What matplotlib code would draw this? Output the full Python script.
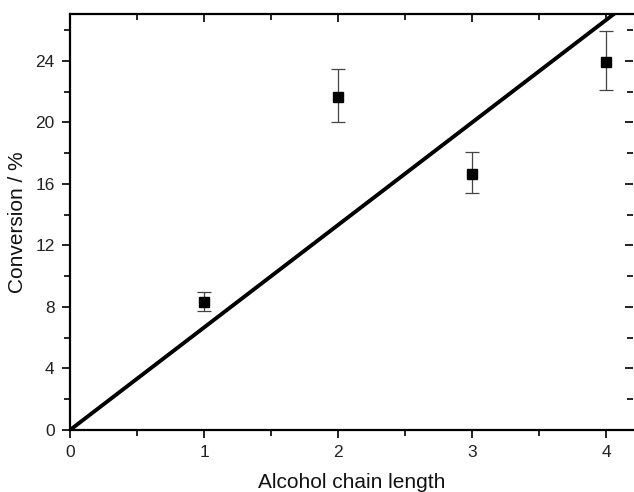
import matplotlib
matplotlib.use('Agg')
import matplotlib.pyplot as plt
from matplotlib.ticker import MultipleLocator

plt.rcParams['font.family'] = ['Liberation Sans', 'DejaVu Sans']

# measured points
chain_length = [1, 2, 3, 4]
conversion = [8.33, 21.65, 16.65, 23.95]
err_low = [0.6, 1.6, 1.25, 1.85]
err_high = [0.65, 1.85, 1.4, 2.0]

# straight fit line (end points)
fit_x = [0, 4.2]
fit_y = [0, 28.0]

fig = plt.figure(figsize=(6.34, 4.92), dpi=100)
ax = fig.add_axes([70/634, 62/492, 563/634, 416/492])

ax.plot(fit_x, fit_y, color='black', lw=2.8, solid_capstyle='butt')
ax.errorbar(chain_length, conversion, yerr=[err_low, err_high], fmt='s',
            color='black', ms=7.5, ecolor='#444444', elinewidth=0.9,
            capsize=5, capthick=0.9)

ax.set_xlim(0, 4.2)
ax.set_ylim(0, 27.05)
ax.xaxis.set_major_locator(MultipleLocator(1))
ax.xaxis.set_minor_locator(MultipleLocator(0.5))
ax.yaxis.set_major_locator(MultipleLocator(4))
ax.yaxis.set_minor_locator(MultipleLocator(2))

for s in ax.spines.values():
    s.set_linewidth(1.6)
ax.spines['right'].set_visible(False)

ax.tick_params(which='major', direction='out', length=6, width=1.4,
               labelsize=12.5, colors='#222222', pad=5)
ax.tick_params(which='minor', direction='out', length=4, width=1.2)
ax.tick_params(which='both', top=True, right=True)
# top/right ticks point inward
for t in ax.xaxis.get_major_ticks() + ax.xaxis.get_minor_ticks():
    t.tick2line.set_marker(3)
for t in ax.yaxis.get_major_ticks() + ax.yaxis.get_minor_ticks():
    t.tick2line.set_marker(0)

ax.set_xlabel('Alcohol chain length', fontsize=15, labelpad=9, color='#111111')
ax.set_ylabel('Conversion / %', fontsize=15, labelpad=6, color='#111111')

fig.savefig('out.png', dpi=100)
